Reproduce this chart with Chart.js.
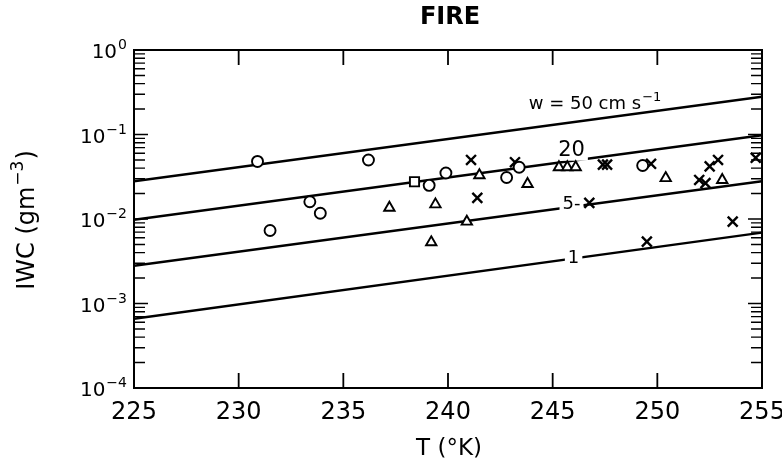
<!DOCTYPE html>
<html>
<head>
<meta charset="utf-8">
<script src="https://cdn.jsdelivr.net/npm/chart.js@4/dist/chart.umd.min.js"></script>
<style>
  html, body { margin: 0; padding: 0; background: #fff; }
  canvas { display: block; }
</style>
</head>
<body>
<canvas id="fire" width="782" height="472"></canvas>
<script>
// FIRE: ice water content vs temperature, with constant-updraft curves

const lineT = [225, 255];
const w50 = [0.028, 0.28];
const w20 = [0.0098, 0.098];
const w5 = [0.0028, 0.028];
const w1 = [0.00066, 0.0069];

const circleT   = [230.9, 236.2, 239.9, 239.1, 233.4, 233.9, 231.5, 242.8, 243.4, 249.3];
const circleIWC = [0.048, 0.050, 0.035, 0.025, 0.016, 0.0117, 0.0073, 0.031, 0.041, 0.043];

const squareT   = [238.4];
const squareIWC = [0.0276];

const triT   = [237.2, 239.4, 239.2, 240.9, 241.5, 243.8, 245.3, 245.7, 246.1, 250.4, 253.1];
const triIWC = [0.0136, 0.0149, 0.0053, 0.0093, 0.033, 0.026, 0.041, 0.041, 0.041, 0.0305, 0.029];

const crossT   = [241.1, 243.2, 241.4, 246.75, 247.4, 247.6, 249.7, 252.5, 252.9, 252.0, 252.3, 254.7, 253.6, 249.5];
const crossIWC = [0.050, 0.047, 0.0178, 0.0155, 0.044, 0.044, 0.045, 0.042, 0.050, 0.029, 0.0266, 0.053, 0.0093, 0.0054];

const xTicks = [225, 230, 235, 240, 245, 250, 255];
const yDecades = [-4, -3, -2, -1, 0];

// curve labels: text, position (T, IWC) of the label centre, whether it cuts the curve
const curveLabels = [
  { text: 'w = 50 cm s', sup: '\u22121', t: 247.0, v: 0.236, size: 18, cut: false },
  { text: '20', sup: '', t: 245.9, v: 0.069, size: 21, cut: true },
  { text: '5-', sup: '', t: 245.9, v: 0.0158, size: 18, cut: true },
  { text: '1', sup: '', t: 246.0, v: 0.0036, size: 18, cut: true }
];

const pts = (xs, ys) => xs.map((x, i) => ({ x, y: ys[i] }));
const FONT = "'DejaVu Sans', sans-serif";

function curve(vals) {
  return {
    data: pts(lineT, vals),
    showLine: true,
    borderColor: '#000',
    borderWidth: 2.4,
    pointRadius: 0,
    order: 2
  };
}

function marker(xs, ys, style, r, bw) {
  return {
    data: pts(xs, ys),
    pointStyle: style,
    pointRadius: r,
    pointBorderWidth: bw,
    pointBorderColor: '#000',
    pointBackgroundColor: '#fff',
    showLine: false,
    order: 1
  };
}

function supText(ctx, base, sup, x, y, size, align) {
  ctx.font = size + 'px ' + FONT;
  const bw = ctx.measureText(base).width;
  ctx.font = Math.round(size * 0.7) + 'px ' + FONT;
  const sw = sup ? ctx.measureText(sup).width : 0;
  let x0 = x;
  if (align === 'right') x0 = x - bw - sw;
  if (align === 'center') x0 = x - (bw + sw) / 2;
  ctx.textAlign = 'left';
  ctx.textBaseline = 'alphabetic';
  ctx.font = size + 'px ' + FONT;
  ctx.fillText(base, x0, y);
  if (sup) {
    ctx.font = Math.round(size * 0.7) + 'px ' + FONT;
    ctx.fillText(sup, x0 + bw + 1, y - size * 0.45);
  }
  return bw + sw;
}

const framePlugin = {
  id: 'frame',
  beforeDatasetsDraw(chart) {
    const { ctx, chartArea: a, scales } = chart;
    const xs = scales.x, ys = scales.y;
    ctx.save();
    ctx.strokeStyle = '#000';
    ctx.fillStyle = '#000';
    ctx.lineWidth = 2;
    ctx.strokeRect(a.left, a.top, a.right - a.left, a.bottom - a.top);

    // x ticks, inward top and bottom
    ctx.lineWidth = 1.8;
    xTicks.forEach(t => {
      const px = xs.getPixelForValue(t);
      ctx.beginPath();
      ctx.moveTo(px, a.bottom); ctx.lineTo(px, a.bottom - 15);
      ctx.moveTo(px, a.top); ctx.lineTo(px, a.top + 15);
      ctx.stroke();
    });

    // y ticks, inward left and right
    ctx.lineWidth = 1.4;
    yDecades.forEach(d => {
      for (let k = 1; k <= 9; k++) {
        const v = k * Math.pow(10, d);
        if (v > 1) break;
        const py = ys.getPixelForValue(v);
        const len = k === 1 ? 14 : 11;
        ctx.beginPath();
        ctx.moveTo(a.left, py); ctx.lineTo(a.left + len, py);
        ctx.moveTo(a.right, py); ctx.lineTo(a.right - len, py);
        ctx.stroke();
      }
    });

    // x tick labels
    ctx.font = '24px ' + FONT;
    ctx.textAlign = 'center';
    ctx.textBaseline = 'middle';
    xTicks.forEach(t => ctx.fillText(String(t), xs.getPixelForValue(t), a.bottom + 25));

    // y tick labels 10^n
    yDecades.forEach(d => {
      const py = ys.getPixelForValue(Math.pow(10, d));
      const sup = d < 0 ? '\u2212' + (-d) : String(d);
      supText(ctx, '10', sup, 126, py + 8, 20, 'right');
    });

    // titles
    ctx.font = 'bold 24px ' + FONT;
    ctx.textAlign = 'center';
    ctx.textBaseline = 'middle';
    ctx.fillText('FIRE', 450, 18);
    ctx.font = '23px ' + FONT;
    ctx.fillText('T (\u00b0K)', 449, 449);

    ctx.translate(28, 220);
    ctx.rotate(-Math.PI / 2);
    ctx.font = '24px ' + FONT;
    const w1t = ctx.measureText('IWC (gm').width;
    ctx.font = '17px ' + FONT;
    const w2t = ctx.measureText('\u22123').width;
    ctx.font = '24px ' + FONT;
    const w3t = ctx.measureText(')').width;
    let x0 = -(w1t + w2t + w3t + 2) / 2;
    ctx.textAlign = 'left';
    ctx.textBaseline = 'middle';
    ctx.fillText('IWC (gm', x0, 0);
    ctx.font = '17px ' + FONT;
    ctx.fillText('\u22123', x0 + w1t + 1, -9);
    ctx.font = '24px ' + FONT;
    ctx.fillText(')', x0 + w1t + w2t + 2, 0);
    ctx.restore();
  },
  // labels go on after the curves (dataset 0 is the last curve drawn) but before the markers
  afterDatasetDraw(chart, args) {
    if (args.index !== 0) return;
    const { ctx, scales } = chart;
    ctx.save();
    curveLabels.forEach(l => {
      const px = scales.x.getPixelForValue(l.t);
      const py = scales.y.getPixelForValue(l.v);
      ctx.font = l.size + 'px ' + FONT;
      let w = ctx.measureText(l.text).width;
      if (l.sup) {
        ctx.font = Math.round(l.size * 0.7) + 'px ' + FONT;
        w += ctx.measureText(l.sup).width + 1;
      }
      if (l.cut) {
        ctx.fillStyle = '#fff';
        ctx.fillRect(px - w / 2 - 3, py - l.size * 0.6, w + 6, l.size * 1.2);
      }
      ctx.fillStyle = '#000';
      supText(ctx, l.text, l.sup, px, py + l.size * 0.36, l.size, 'center');
    });
    ctx.restore();
  }
};

new Chart(document.getElementById('fire'), {
  type: 'scatter',
  data: {
    datasets: [
      curve(w50), curve(w20), curve(w5), curve(w1),
      marker(circleT, circleIWC, 'circle', 5.5, 1.9),
      marker(squareT, squareIWC, 'rect', 6.5, 1.9),
      marker(triT, triIWC, 'triangle', 6, 1.9),
      marker(crossT, crossIWC, 'crossRot', 7, 2.4)
    ]
  },
  options: {
    responsive: false,
    animation: false,
    layout: { padding: { left: 134, right: 20, top: 50, bottom: 84 } },
    scales: {
      x: { type: 'linear', min: 225, max: 255, display: false },
      y: { type: 'logarithmic', min: 1e-4, max: 1, display: false }
    },
    plugins: { legend: { display: false }, tooltip: { enabled: false } }
  },
  plugins: [framePlugin]
});
</script>
</body>
</html>
